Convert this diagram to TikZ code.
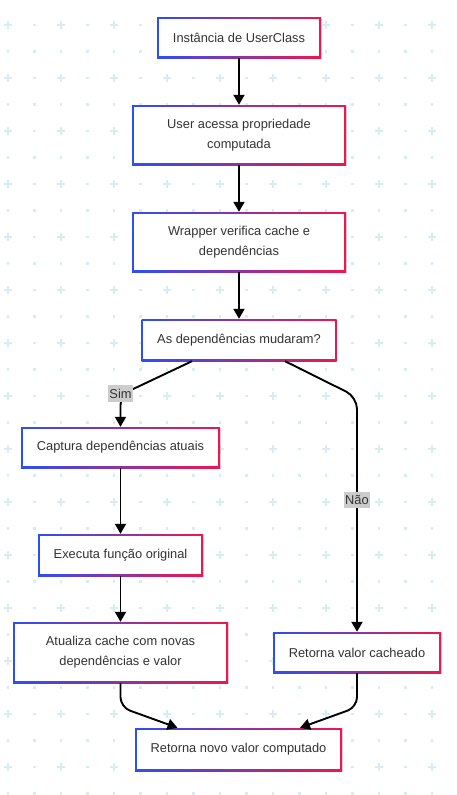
\documentclass[tikz,border=0pt]{standalone}
\usepackage{fontspec}
\setmainfont{Liberation Sans}
\usetikzlibrary{arrows.meta}
\definecolor{cblue}{HTML}{2C4FF5}
\definecolor{cred}{HTML}{F0164E}
\definecolor{gridc}{HTML}{D6EDF3}
\definecolor{txt}{HTML}{333333}
\definecolor{lblbg}{HTML}{CCCCCC}
\tikzset{
  gbox/.style={rectangle, inner sep=0pt, fill=white, text=txt, align=center,
    font=\fontsize{12.85pt}{20pt}\selectfont,
    preaction={fill=black, fill opacity=0.10, transform canvas={xshift=0.8pt, yshift=-1.4pt}},
    path picture={
      \shade[left color=cblue, right color=cred]
        (path picture bounding box.south west) rectangle (path picture bounding box.north east);
      \fill[white]
        ([shift={(1.7pt,1.7pt)}]path picture bounding box.south west) rectangle
        ([shift={(-1.7pt,-1.7pt)}]path picture bounding box.north east);
    }},
  conn/.style={line width=1.9pt, black, -{Triangle[length=10pt,width=11pt]}},
  elabel/.style={fill=lblbg, text=txt, inner xsep=1pt, inner ysep=3.5pt,
    font=\fontsize{12.85pt}{15pt}\selectfont},
}
\begin{document}
\begin{tikzpicture}[x=1pt,y=-1pt]
\useasboundingbox[fill=white] (0,0) rectangle (456,795);
% background grid
\foreach \i in {0,...,17}{
  \foreach \j in {0,...,30}{
    \pgfmathsetmacro\gx{8+26.5*\i}
    \pgfmathsetmacro\gy{-1.5+26.5*\j}
    \pgfmathtruncatemacro\pp{and(iseven(\i),isodd(\j))}
    \ifnum\pp=1
      \draw[gridc, line width=1.4pt] (\gx-4,\gy) -- (\gx+4,\gy) (\gx,\gy-4) -- (\gx,\gy+4);
    \else
      \fill[gridc] (\gx-1.1,\gy-1.1) rectangle (\gx+1.1,\gy+1.1);
    \fi
  }
}
% nodes
\node[gbox, minimum width=164pt, minimum height=41pt] (n1) at (239,37.5) {Instância de UserClass};
\node[gbox, minimum width=214pt, minimum height=60pt] (n2) at (239,135) {User acessa propriedade\\computada};
\node[gbox, minimum width=214pt, minimum height=60pt] (n3) at (239,242) {Wrapper verifica cache e\\dependências};
\node[gbox, minimum width=195pt, minimum height=42pt] (n4) at (239,340) {As dependências mudaram?};
\node[gbox, minimum width=199pt, minimum height=41pt] (n5) at (120.5,447.5) {Captura dependências atuais};
\node[gbox, minimum width=165pt, minimum height=42pt] (n6) at (120.5,555) {Executa função original};
\node[gbox, minimum width=215pt, minimum height=61pt] (n7) at (120.5,652.5) {Atualiza cache com novas\\dependências e valor};
\node[gbox, minimum width=168pt, minimum height=41pt] (n8) at (357,652.5) {Retorna valor cacheado};
\node[gbox, minimum width=207pt, minimum height=43pt] (n9) at (238.5,749.5) {Retorna novo valor computado};
% connectors
\draw[conn] (n1) -- (n2);
\draw[conn] (n2) -- (n3);
\draw[conn] (n3) -- (n4);
\coordinate (s1) at (120.5,395);
\coordinate (s2) at (357,397);
\draw[conn, rounded corners=10pt] ([xshift=-47pt]n4.south) -- (s1) -- (n5.north);
\draw[conn, rounded corners=12pt] ([xshift=46pt]n4.south) -- (s2) -- (n8.north);
\draw[conn] (n5) -- (n6);
\draw[conn] (n6) -- (n7);
\draw[conn, rounded corners=10pt] (n7.south) -- ++(0,24) -- ([xshift=-61pt]n9.north);
\draw[conn, rounded corners=10pt] (n8.south) -- ++(0,34) -- ([xshift=61.5pt]n9.north);
\node[elabel] (lsim) at (120.5,393.5) {Sim};
\node[elabel] (lnao) at (357,500) {Não};
\end{tikzpicture}
\end{document}
